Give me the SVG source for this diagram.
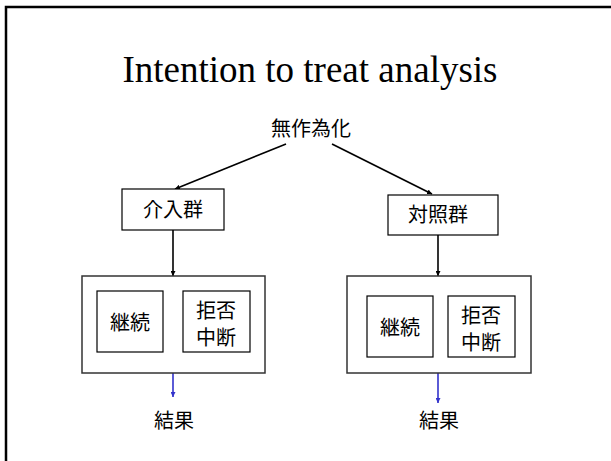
<svg xmlns="http://www.w3.org/2000/svg" width="611" height="461" viewBox="0 0 611 461">
<style>
.box{fill:#fff;stroke:#000;stroke-width:1.2}
.outer{fill:#fff;stroke:#333;stroke-width:1.5}
.cjk{font-family:"Noto Sans CJK JP","Noto Sans CJK SC",sans-serif;font-size:20px;fill:#000;text-anchor:middle}
.title{font-family:"Liberation Serif","Times New Roman",serif;font-size:37px;fill:#000;text-anchor:middle}
.con{stroke:#000;stroke-width:1.6;fill:none}
.blue{stroke:#3333cc;stroke-width:1.6;fill:none}
</style>
<defs>
<marker id="ah" viewBox="0 0 10 10" refX="10" refY="5" markerWidth="5" markerHeight="5" markerUnits="userSpaceOnUse" orient="auto"><path d="M0,0 L10,5 L0,10 z" fill="#000"/></marker>
<marker id="ahb" viewBox="0 0 10 10" refX="10" refY="5" markerWidth="5" markerHeight="5" markerUnits="userSpaceOnUse" orient="auto"><path d="M0,0 L10,5 L0,10 z" fill="#3333cc"/></marker>
</defs>
<rect x="0" y="0" width="611" height="461" fill="#fff"/>
<rect x="6" y="7" width="620" height="470" fill="none" stroke="#000" stroke-width="2.5"/>
<text class="title" x="310" y="82">Intention to treat analysis</text>
<g id="random"><text class="cjk" x="311" y="136">無作為化</text></g>
<g id="connectors">
<line class="con" x1="286" y1="144" x2="175" y2="189" marker-end="url(#ah)"/>
<line class="con" x1="332" y1="144" x2="432" y2="194" marker-end="url(#ah)"/>
<line class="con" x1="173" y1="230" x2="173" y2="276" marker-end="url(#ah)"/>
<line class="con" x1="438" y1="235" x2="438" y2="276" marker-end="url(#ah)"/>
<line class="blue" x1="173" y1="373" x2="173" y2="397" marker-end="url(#ahb)"/>
<line class="blue" x1="438" y1="373" x2="438" y2="403" marker-end="url(#ahb)"/>
</g>
<g id="intervention"><rect class="box" x="122" y="189" width="102" height="41"/><text class="cjk" x="173" y="217">介入群</text></g>
<g id="control"><rect class="box" x="388" y="195" width="110" height="40"/><text class="cjk" x="438" y="222">対照群</text></g>
<g id="left-group">
<rect class="outer" x="82" y="276" width="183" height="97"/>
<rect class="box" x="97" y="291" width="66" height="61"/><text class="cjk" x="130" y="330">継続</text>
<rect class="box" x="183" y="291" width="67" height="61"/><text class="cjk" x="216" y="318">拒否</text><text class="cjk" x="216" y="345">中断</text>
</g>
<g id="right-group">
<rect class="outer" x="347" y="276" width="184" height="97"/>
<rect class="box" x="367" y="296" width="66" height="61"/><text class="cjk" x="400" y="335">継続</text>
<rect class="box" x="448" y="296" width="67" height="61"/><text class="cjk" x="481" y="323">拒否</text><text class="cjk" x="481" y="350">中断</text>
</g>
<g id="result-left"><text class="cjk" x="174" y="428">結果</text></g>
<g id="result-right"><text class="cjk" x="439" y="428">結果</text></g>
</svg>
